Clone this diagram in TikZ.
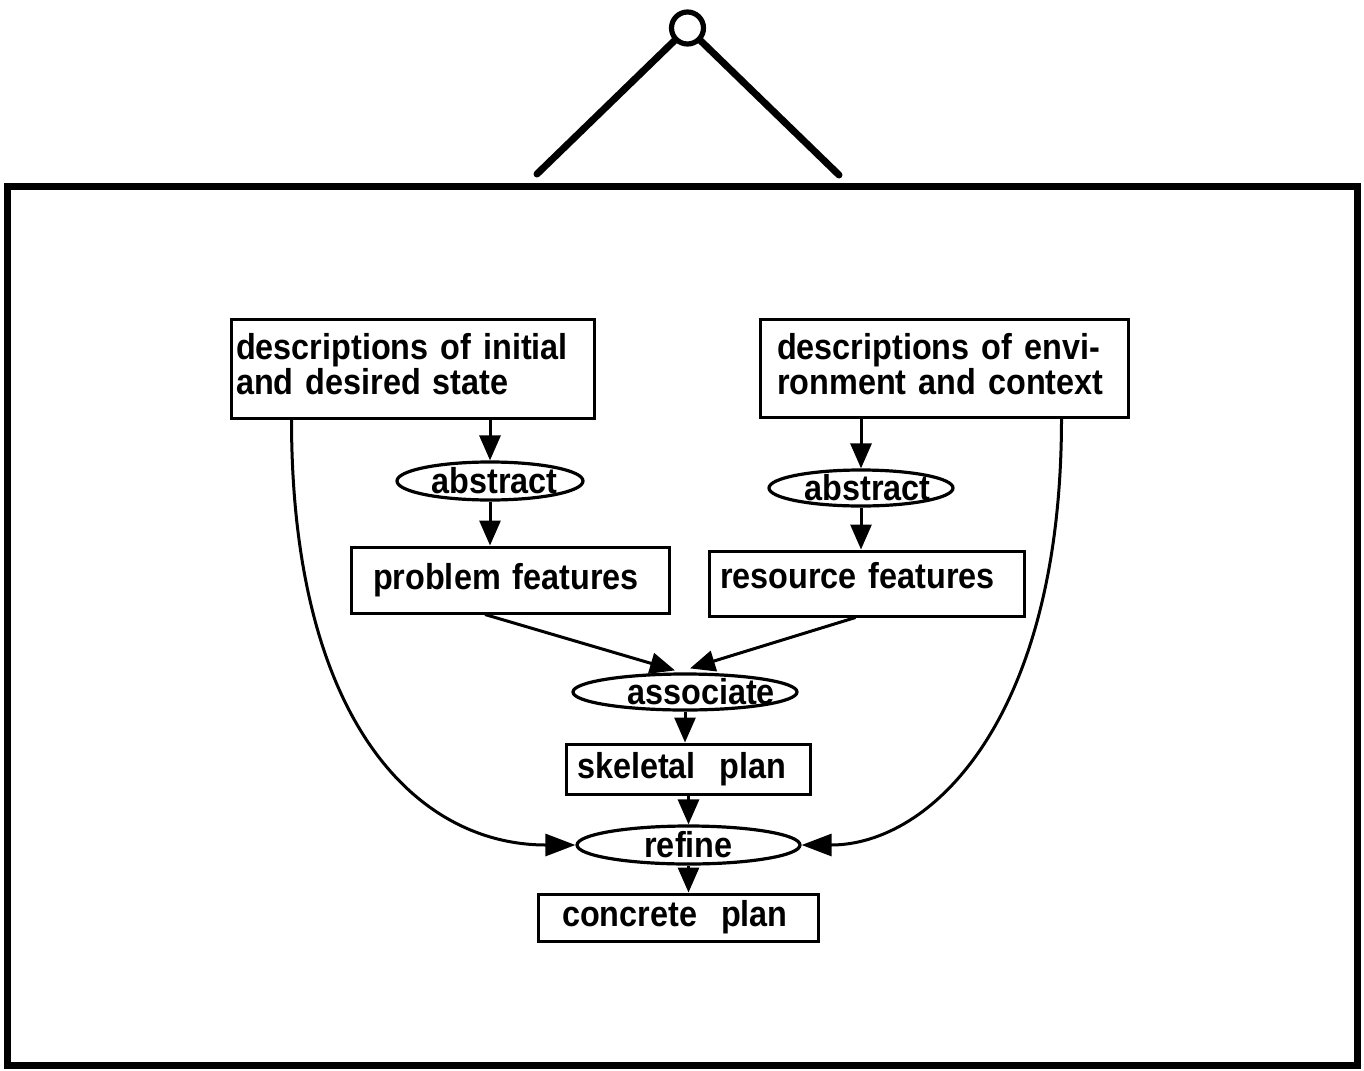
\documentclass[tikz,border=0pt]{standalone}
\usepackage{fontspec}
\setmainfont{Liberation Sans}[FakeStretch=0.9]
\usetikzlibrary{shapes.geometric,arrows.meta,calc}
\begin{document}
\begin{tikzpicture}[x=0.5pt,y=-0.5pt,
  every node/.style={font=\fontsize{18pt}{17.5pt}\selectfont\bfseries},
  box/.style={draw, line width=1.5pt, rectangle, inner sep=0pt, align=left},
  ell/.style={draw, line width=1.6pt, ellipse, inner sep=0pt},
  arr/.style={line width=1.5pt, -{Triangle[length=12.5pt,width=10.5pt]}},
  arrc/.style={line width=1.5pt, -{Triangle[length=15pt,width=11pt]}},
  hang/.style={line width=3.5pt, line cap=round}
]
\useasboundingbox (0,0) rectangle (1364,1070);
% frame and hanger
\draw[line width=3.5pt] (7.5,186.5) rectangle (1357,1065);
\node[circle, draw, line width=2.6pt, minimum size=16pt, inner sep=0pt] (ring) at (687.5,28) {};
\coordinate (hl) at (537,174);
\coordinate (hr) at (839,175);
\draw[hang] (ring) -- (hl);
\draw[hang] (ring) -- (hr);
% boxes
\node[box, minimum width=181.5pt, minimum height=49.5pt, text width=176.5pt] (box1) at (412.5,368.5)
  {\raisebox{2pt}[\height][\depth]{descriptions of initial}\\\raisebox{2pt}[\height][\depth]{and desired state}};
\node[box, minimum width=184pt, minimum height=49pt, text width=167pt] (box2) at (944,368)
  {\raisebox{2pt}[\height][\depth]{descriptions of envi-}\\\raisebox{2pt}[\height][\depth]{ronment and context}};
\node[box, minimum width=159pt, minimum height=33pt, text width=137pt] (pf) at (510,580)
  {problem features};
\node[box, minimum width=157.5pt, minimum height=32.5pt, text width=146.5pt] (rf) at (866.5,583.5)
  {\raisebox{4pt}[\height][\depth]{resource features}};
\node[box, minimum width=122pt, minimum height=25pt, text width=111pt] (skel) at (688,769)
  {skeletal~~plan};
\node[box, minimum width=140pt, minimum height=23.5pt, text width=116pt] (conc) at (678,917.5)
  {concrete~~plan};
% ellipses
\node[ell, minimum width=93pt, minimum height=19pt, label={[xshift=2.25pt]center:abstract}] (abs1) at (490,481) {};
\node[ell, minimum width=92pt, minimum height=18pt, label={[xshift=3.25pt]center:abstract}] (abs2) at (861,488) {};
\node[ell, minimum width=112pt, minimum height=18pt, label={[xshift=8pt]center:associate}] (assoc) at (685,692) {};
\node[ell, minimum width=111.5pt, minimum height=19pt, label={center:refine}] (refine) at (688.5,845) {};
% connectors
\draw[arr] (abs1.north |- box1.south) -- (abs1.north);
\draw[arr] (abs1.south) -- (abs1.south |- pf.north);
\draw[arr] (abs2.north |- box2.south) -- (abs2.north);
\draw[arr] (abs2.south) -- (abs2.south |- rf.north);
\draw[arr] ($(pf.south)+(-25,0)$) -- ($(assoc.north)+(-10,-2)$);
\draw[arr] ($(rf.south)+(-11,0)$) -- ($(assoc.north)+(5,-4)$);
\draw[arr] (assoc.south) -- (assoc.south |- skel.north);
\draw[arr] (refine.north |- skel.south) -- (refine.north);
\draw[arr] (refine.south) -- (refine.south |- conc.north);
\draw[arrc] ($(box1.south west)+(62,0)$) .. controls +(0,300) and +(-160,0) .. (refine.west);
\draw[arrc] ($(box2.south east)+(-68,0)$) .. controls +(0,300) and +(130,0) .. (refine.east);
\end{tikzpicture}
\end{document}
